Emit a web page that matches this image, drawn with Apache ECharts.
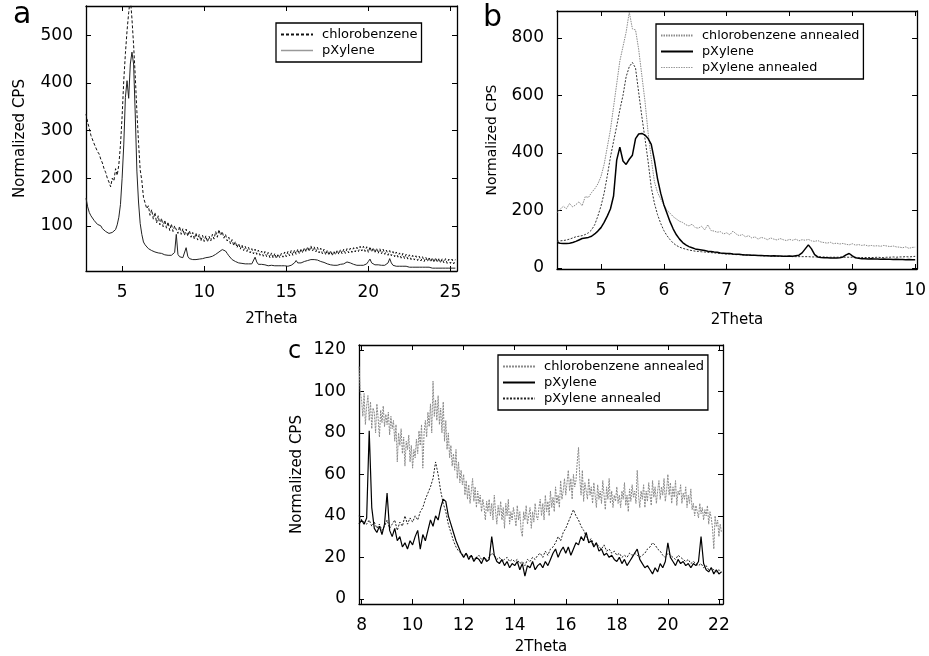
<!DOCTYPE html>
<html><head><meta charset="utf-8">
<script src="https://cdn.jsdelivr.net/npm/echarts@6/dist/echarts.min.js"></script>
<style>html,body{margin:0;padding:0;background:#fff}#chart{width:929px;height:656px}</style>
</head><body><div id="chart"></div>
<script>
// ---------- Panel a (2Theta grid: start 2.8, step 0.1) ----------
const aStart = 2.8, aStep = 0.1;
const aChloro = [
  335, 318,
  305, 290, 288, 272, 270, 256, 251, 240, 232, 220,
  212, 200, 192, 182, 200, 194, 220, 206, 228, 270,
  330, 405, 462, 510, 548, 580, 535, 480, 415, 340,
  275, 218, 195, 160, 156, 136, 142, 122, 134, 114,
  128, 106, 121, 102, 116, 98, 112, 95, 108, 90,
  104, 88, 100, 96, 84, 99, 82, 94, 80, 93,
  78, 90, 76, 86, 72, 85, 70, 82, 68, 80,
  67, 79, 66, 78, 68, 82, 72, 88, 76, 92,
  80, 88, 74, 82, 68, 76, 62, 71, 58, 67,
  54, 63, 51, 60, 48, 57, 46, 55, 43, 52,
  41, 51, 40, 49, 38, 47, 36, 46, 35, 44,
  33, 43, 32, 42, 31, 41, 33, 42, 34, 45,
  35, 46, 37, 48, 38, 49, 40, 51, 41, 52,
  43, 54, 45, 56, 46, 58, 47, 56, 45, 55,
  43, 53, 41, 51, 39, 49, 38, 48, 37, 47,
  39, 49, 40, 50, 41, 51, 42, 52, 43, 53,
  44, 54, 45, 55, 46, 57, 47, 57, 46, 56,
  44, 56, 45, 54, 43, 53, 42, 52, 41, 51,
  40, 49, 38, 48, 37, 46, 35, 45, 34, 43,
  32, 42, 31, 40, 30, 39, 29, 38, 28, 37,
  27, 36, 26, 35, 25, 34, 25, 34, 24, 33,
  23, 33, 23, 32, 22, 31, 22, 31, 21, 30,
  21, 30, 20, 29
];
const aPxylene = [
  158, 140,
  128, 121, 117, 111, 107, 103, 99, 100, 94, 92,
  88, 90, 84, 80, 86, 84, 92, 102, 118, 145,
  200, 270, 370, 405, 368, 440, 465, 440, 335, 215,
  150, 105, 82, 66, 60, 56, 52, 50, 48, 46,
  45, 44, 43, 41, 42, 40, 39, 40, 38, 37,
  38, 37, 44, 82, 40, 35, 34, 33, 36, 54,
  36, 31, 30, 29, 28, 29, 28, 30, 29, 31,
  30, 33, 31, 34, 33, 36, 38, 40, 43, 45,
  48, 50, 49, 47, 42, 37, 33, 29, 27, 25,
  24, 22, 23, 21, 22, 20, 21, 20, 19, 20,
  22, 34, 24, 19, 18, 19, 17, 18, 17, 16,
  18, 17, 18, 16, 17, 16, 17, 16, 17, 16,
  16, 15, 16, 17, 19, 22, 27, 22, 21, 22,
  24, 25, 26, 27, 28, 29, 30, 29, 30, 28,
  27, 25, 24, 23, 21, 20, 19, 18, 18, 17,
  18, 17, 18, 19, 18, 20, 21, 24, 27, 22,
  20, 19, 18, 17, 18, 17, 16, 17, 18, 20,
  25, 30, 22, 19, 18, 17, 18, 16, 17, 16,
  17, 18, 22, 31, 22, 17, 16, 15, 16, 15,
  14, 15, 14, 15, 14, 13, 14, 13, 14, 13,
  14, 13, 12, 13, 12, 13, 12, 13, 12, 11,
  12, 11, 12, 11, 12, 11, 12, 11, 10, 11,
  10, 11, 10, 11
];
const aXTicks = [5, 10, 15, 20, 25];
const aYTicks = [100, 200, 300, 400, 500];

// ---------- Panel b (2Theta grid: start 4.3, step 0.05) ----------
const bStart = 4.3, bStep = 0.05;
const bChloroAnn = [
  192, 204, 214, 206, 224, 212, 220, 230, 216, 248,
  245, 262, 275, 292, 318, 360, 420, 480, 560, 640,
  720, 770, 820, 890, 832, 828, 760, 670, 580, 470,
  380, 300, 262, 240, 220, 200, 190, 178, 170, 162,
  158, 150, 146, 152, 140, 138, 145, 132, 150, 130,
  128, 124, 126, 118, 122, 115, 128, 118, 112, 116,
  108, 112, 104, 108, 100, 106, 103, 98, 104, 100,
  97, 102, 98, 95, 99, 96, 100, 94, 98, 96,
  99, 94, 92, 95, 90, 88, 86, 89, 84, 86,
  83, 85, 82, 80, 84, 79, 81, 78, 80, 76,
  78, 76, 77, 75, 78, 76, 74, 76, 73, 72,
  70, 73, 68, 71, 72
];
const bPxylene = [
  88, 86, 85, 85, 86, 88, 92, 97, 102, 104,
  106, 110, 118, 128, 140, 158, 180, 205, 250, 375,
  420, 372, 360, 378, 392, 450, 466, 468, 462, 450,
  430, 375, 310, 260, 220, 190, 160, 135, 115, 100,
  88, 80, 74, 70, 66, 64, 62, 60, 58, 57,
  55, 54, 52, 51, 50, 50, 48, 47, 47, 46,
  45, 45, 44, 44, 43, 43, 42, 42, 41, 42,
  41, 41, 40, 40, 41, 40, 42, 44, 52, 66,
  80, 66, 46, 38, 36, 35, 35, 34, 34, 34,
  35, 38, 45, 50, 42, 35, 33, 32, 32, 31,
  32, 31, 31, 30, 31, 30, 30, 29, 30, 29,
  29, 28, 29, 28, 28
];
const bPxyleneAnn = [
  92, 94, 95, 97, 100, 104, 108, 110, 112, 116,
  122, 132, 150, 180, 215, 260, 320, 385, 440, 493,
  550, 600, 665, 700, 715, 695, 610, 527, 450, 370,
  280, 225, 185, 155, 130, 112, 98, 86, 78, 72,
  68, 65, 62, 60, 58, 57, 56, 55, 54, 53,
  52, 51, 50, 49, 48, 48, 47, 46, 46, 45,
  45, 44, 44, 43, 43, 42, 42, 42, 41, 41,
  41, 40, 40, 40, 40, 39, 39, 39, 39, 39,
  39, 38, 38, 38, 38, 38, 37, 37, 37, 37,
  37, 37, 37, 37, 37, 37, 36, 36, 36, 36,
  36, 36, 37, 36, 36, 37, 37, 38, 37, 38,
  38, 39, 38, 39, 40
];
const bXTicks = [5, 6, 7, 8, 9, 10];
const bYTicks = [0, 200, 400, 600, 800];

// ---------- Panel c ----------
// chlorobenzene annealed: 2Theta grid start 7.9, step 0.05
const cChloroStart = 7.9, cChloroStep = 0.05;
const cChloroAnn = [
  112, 100,
  96, 88, 99, 84, 93, 98, 86, 95, 82, 92, 90, 80, 94, 87, 78, 91, 85, 93, 83, 89,
  84, 90, 79, 88, 82, 86, 76, 84, 66, 80, 74, 82, 70, 78, 64, 76, 72, 79, 66, 74,
  63, 72, 68, 77, 70, 81, 74, 84, 63, 80, 86, 78, 90, 83, 94, 80, 105, 88, 96, 86,
  98, 84, 92, 80, 95, 76, 86, 72, 80, 68, 74, 64, 70, 62, 72, 58, 66, 56, 62, 55,
  60, 50, 57, 48, 55, 46, 52, 58, 47, 54, 44, 52, 46, 50, 42, 48, 44, 38, 47, 42,
  48, 40, 46, 38, 50, 42, 36, 45, 40, 47, 38, 44, 34, 46, 40, 48, 36, 42, 38, 44,
  40, 35, 45, 38, 42, 33, 30, 42, 38, 45, 36, 40, 44, 34, 42, 37, 46, 40, 38, 44,
  48, 40, 46, 38, 50, 42, 47, 40, 52, 44, 49, 42, 54, 46, 50, 44, 57, 48, 52, 58,
  50, 56, 62, 52, 58, 48, 60, 54, 57, 66, 73, 58, 50, 62, 47, 56, 52, 48, 58, 50,
  54, 46, 56, 50, 44, 55, 48, 52, 46, 57, 50, 43, 54, 48, 58, 46, 52, 44, 50, 47,
  54, 46, 50, 44, 52, 48, 56, 45, 50, 42, 53, 47, 55, 49, 52, 46, 62, 50, 44, 52,
  48, 55, 44, 52, 47, 56, 50, 45, 57, 49, 54, 46, 52, 57, 48, 54, 50, 58, 47, 52,
  60, 50, 56, 46, 54, 49, 57, 45, 52, 50, 55, 46, 51, 48, 54, 44, 50, 46, 53, 43,
  46, 40, 45, 42, 39, 46, 41, 44, 38, 43, 40, 45, 36, 42, 39, 34, 24, 40, 35, 38,
  30, 36, 32
];
// pXylene and pXylene annealed: 2Theta grid start 7.9, step 0.1
const cStart = 7.9, cStep = 0.1;
const cPxylene = [
  36,
  38, 36, 39, 81, 44, 34, 32, 35, 31, 36,
  51, 33, 30, 34, 28, 30, 25, 27, 24, 28,
  26, 30, 33, 24, 31, 28, 33, 38, 35, 40,
  38, 44, 48, 47, 40, 36, 32, 28, 25, 22,
  20, 22, 19, 21, 18, 20, 19, 17, 20, 18,
  19, 30, 21, 18, 17, 19, 16, 18, 15, 17,
  16, 18, 14, 17, 11, 16, 15, 18, 14, 16,
  17, 15, 18, 16, 19, 22, 24, 20, 23, 25,
  22, 25, 21, 24, 27, 26, 30, 28, 32, 27,
  28, 25, 27, 23, 24, 21, 22, 20, 21, 19,
  18, 20, 17, 19, 16, 18, 20, 22, 24, 19,
  17, 15, 16, 14, 12, 15, 13, 17, 15, 18,
  27, 20, 18, 16, 19, 17, 18, 16, 17, 15,
  17, 16, 18, 30, 17, 14, 13, 15, 12, 14,
  12, 13
];
const cPxyleneAnn = [
  40,
  38, 37, 36, 38, 35, 37, 34, 36, 33, 35,
  38, 34, 36, 38, 33, 37, 35, 40, 36, 39,
  37, 40, 38, 42, 44, 48, 51, 54, 58, 66,
  60, 52, 46, 42, 36, 32, 28, 25, 23, 22,
  21, 22, 20, 21, 19, 20, 21, 19, 20, 19,
  20, 22, 21, 19, 20, 18, 19, 20, 18, 19,
  18, 19, 17, 18, 16, 19, 18, 20, 19, 21,
  22, 20, 23, 21, 24, 25, 27, 30, 28, 32,
  34, 37, 40, 43, 40, 38, 35, 33, 30, 28,
  29, 26, 27, 25, 24, 26, 23, 24, 22, 23,
  21, 22, 20, 21, 20, 22, 21, 22, 21, 20,
  21, 22, 24, 25, 27, 26, 24, 23, 21, 20,
  22, 21, 20, 19, 21, 20, 19, 18, 19, 17,
  18, 17, 16, 17, 15, 16, 14, 15, 14, 13,
  14, 13
];
const cXTicks = [8, 10, 12, 14, 16, 18, 20, 22];
const cYTicks = [0, 20, 40, 60, 80, 100, 120];

// ---------- build ----------
const FONT = 'DejaVu Sans';
function pairs(start, step, vals) {
  return vals.map((v, i) => [Math.round((start + i * step) * 100) / 100, v]);
}
const grids = [
  {left: 86, top: 6, width: 371, height: 265},
  {left: 557, top: 11, width: 362, height: 258},
  {left: 359, top: 345, width: 364, height: 261}
];
const xRanges = [[2.8, 25.4], [4.3, 10.03], [7.9, 22.16]];
const yRanges = [[5, 562], [-4, 894], [-2.5, 122.4]];
const xTicks = [aXTicks, bXTicks, cXTicks];
const yTicks = [aYTicks, bYTicks, cYTicks];
const yNameSize = [15, 14, 15];
const xNameGap = [41, 44, 36];
const yNameGap = [58, 58, 54];

const axisLine = {onZero: false, lineStyle: {color: '#000', width: 1.3}};
const xAxes = [], yAxes = [];
[0, 1, 2].forEach(g => {
  xAxes.push({
    gridIndex: g, type: 'value', position: 'bottom', min: xRanges[g][0], max: xRanges[g][1],
    axisLine, splitLine: {show: false},
    axisTick: {inside: true, length: 5, customValues: xTicks[g], lineStyle: {color: '#000'}},
    axisLabel: {customValues: xTicks[g], fontFamily: FONT, fontSize: 17, color: '#000', margin: 13},
    name: '2Theta', nameLocation: 'middle', nameGap: xNameGap[g],
    nameTextStyle: {fontFamily: FONT, fontSize: 15, color: '#000'}
  });
  yAxes.push({
    gridIndex: g, type: 'value', position: 'left', min: yRanges[g][0], max: yRanges[g][1],
    axisLine, splitLine: {show: false},
    axisTick: {inside: true, length: 5, customValues: yTicks[g], lineStyle: {color: '#000'}},
    axisLabel: {customValues: yTicks[g], fontFamily: FONT, fontSize: 17, color: '#000', margin: 13},
    name: 'Normalized CPS', nameLocation: 'middle', nameGap: yNameGap[g],
    nameTextStyle: {fontFamily: FONT, fontSize: yNameSize[g], color: '#000'}
  });
});
[0, 1, 2].forEach(g => {
  xAxes.push({
    gridIndex: g, type: 'value', position: 'top', min: xRanges[g][0], max: xRanges[g][1],
    axisLine, splitLine: {show: false},
    axisTick: {inside: true, length: 5, customValues: xTicks[g], lineStyle: {color: '#000'}},
    axisLabel: {show: false}
  });
  yAxes.push({
    gridIndex: g, type: 'value', position: 'right', min: yRanges[g][0], max: yRanges[g][1],
    axisLine, splitLine: {show: false},
    axisTick: {inside: true, length: 5, customValues: yTicks[g], lineStyle: {color: '#000'}},
    axisLabel: {show: false}
  });
});

function line(name, g, data, color, width, type) {
  return {
    type: 'line', name, xAxisIndex: g, yAxisIndex: g, data, symbol: 'none', showSymbol: false,
    lineStyle: {color, width, type}, itemStyle: {color}, silent: true, animation: false
  };
}
const series = [
  line('a|chlorobenzene', 0, pairs(aStart, aStep, aChloro), '#111', 1, [3, 2]),
  line('a|pXylene', 0, pairs(aStart, aStep, aPxylene), '#222', 1, 'solid'),
  line('b|chlorobenzene annealed', 1, pairs(bStart, bStep, bChloroAnn), '#8a8a8a', 1, [1.5, 1]),
  line('b|pXylene annealed', 1, pairs(bStart, bStep, bPxyleneAnn), '#333', 1, [2, 1.5]),
  line('b|pXylene', 1, pairs(bStart, bStep, bPxylene), '#000', 1.5, 'solid'),
  line('c|chlorobenzene annealed', 2, pairs(cChloroStart, cChloroStep, cChloroAnn), '#8a8a8a', 1, [2, 1]),
  line('c|pXylene annealed', 2, pairs(cStart, cStep, cPxyleneAnn), '#222', 1, [2, 1.5]),
  line('c|pXylene', 2, pairs(cStart, cStep, cPxylene), '#000', 1.2, 'solid')
];

function legend(left, top, fontSize, data) {
  return {
    left, top, orient: 'vertical', data, selectedMode: false,
    formatter: n => n.split('|')[1],
    padding: [5, 4, 5, 4], itemGap: 3, itemWidth: 32, itemHeight: 14,
    borderColor: '#000', borderWidth: 1.3, backgroundColor: '#fff',
    itemStyle: {color: 'rgba(0,0,0,0)', borderWidth: 0, opacity: 0},
    textStyle: {fontFamily: FONT, fontSize, color: '#000', padding: [0, 0, 0, 4]}
  };
}
const legends = [
  legend(276, 23, 13, [
    {name: 'a|chlorobenzene'},
    {name: 'a|pXylene', lineStyle: {color: '#999', width: 1.5, type: 'solid'}}
  ]),
  legend(656, 24, 12.8, [
    {name: 'b|chlorobenzene annealed'},
    {name: 'b|pXylene'},
    {name: 'b|pXylene annealed', lineStyle: {color: '#999', width: 1, type: [1.5, 1]}}
  ]),
  legend(498, 355, 13, [
    {name: 'c|chlorobenzene annealed'},
    {name: 'c|pXylene'},
    {name: 'c|pXylene annealed'}
  ])
];

const chart = echarts.init(document.getElementById('chart'), null, {renderer: 'canvas'});
chart.setOption({
  animation: false,
  backgroundColor: '#fff',
  grid: grids,
  xAxis: xAxes,
  yAxis: yAxes,
  legend: legends,
  series,
  graphic: [
    {type: 'text', x: 13, y: 15, style: {text: 'a', font: '30px "DejaVu Sans"', fill: '#000', verticalAlign: 'middle'}},
    {type: 'text', x: 483, y: 18, style: {text: 'b', font: '30px "DejaVu Sans"', fill: '#000', verticalAlign: 'middle'}},
    {type: 'text', x: 288, y: 352, style: {text: 'c', font: '24px "DejaVu Sans"', fill: '#000', verticalAlign: 'middle'}}
  ]
});
</script></body></html>
